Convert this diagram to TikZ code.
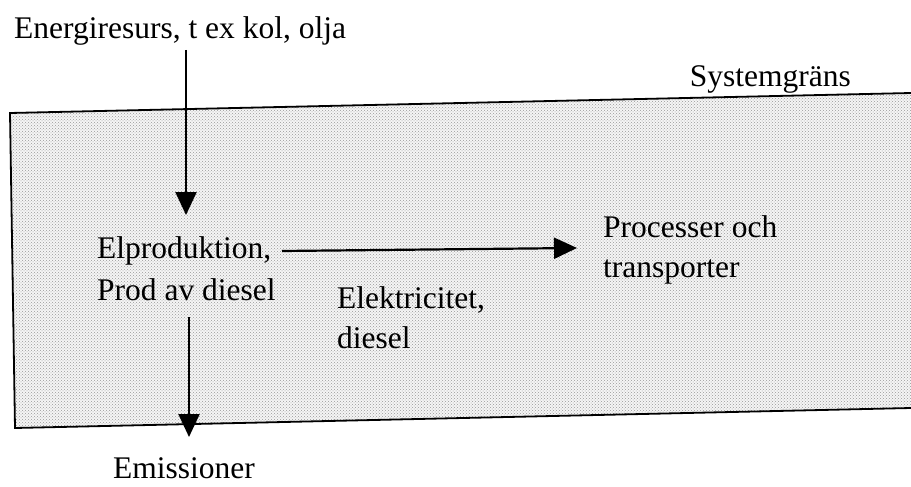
\documentclass[tikz,border=0pt]{standalone}
\usepackage{fontspec}
\setmainfont{Liberation Serif}
\usetikzlibrary{arrows.meta,patterns}
\begin{document}
\begin{tikzpicture}[x=1pt,y=-1pt,
  lbl/.style={font=\fontsize{31.5}{40}\selectfont, inner sep=0pt, anchor=base west, align=left},
  flow/.style={line width=2.2pt, -{Triangle[length=23pt,width=21pt]}},
  border/.style={line width=1.8pt, line join=miter}]
\useasboundingbox (0,0) rectangle (911,487);
% system boundary (dotted gray area)
\fill[black!4] (10,113) -- (911,93) -- (911,408) -- (15,428) -- cycle;
\fill[pattern=crosshatch dots, pattern color=black!40] (10,113) -- (911,93) -- (911,408) -- (15,428) -- cycle;
\draw[border] (911,93) -- (10,113) -- (15,428) -- (911,408);
% texts
\node[lbl] (src) at (14,39) {Energiresurs, t ex kol, olja};
\node[lbl, anchor=base east] (sys) at (851,87) {Systemgräns};
\node[lbl] (el1) at (97,258) {Elproduktion,};
\node[lbl] (el2) at (97,300) {Prod av diesel};
\node[lbl] (proc1) at (603,237) {Processer och};
\node[lbl] (proc2) at (603,277) {transporter};
\node[lbl] (elk1) at (337,308) {Elektricitet,};
\node[lbl] (elk2) at (337,348) {diesel};
\node[lbl] (em) at (113,478) {Emissioner};
% connector end points
\coordinate (inA) at (186,50);
\coordinate (inB) at (186,215);
\coordinate (hA) at (282,251);
\coordinate (hB) at (577,248);
\coordinate (outA) at (189,317);
\coordinate (outB) at (189,437);
\draw[flow] (inA) -- (inB);
\draw[flow] (hA) -- (hB);
\draw[flow] (outA) -- (outB);
\end{tikzpicture}
\end{document}
